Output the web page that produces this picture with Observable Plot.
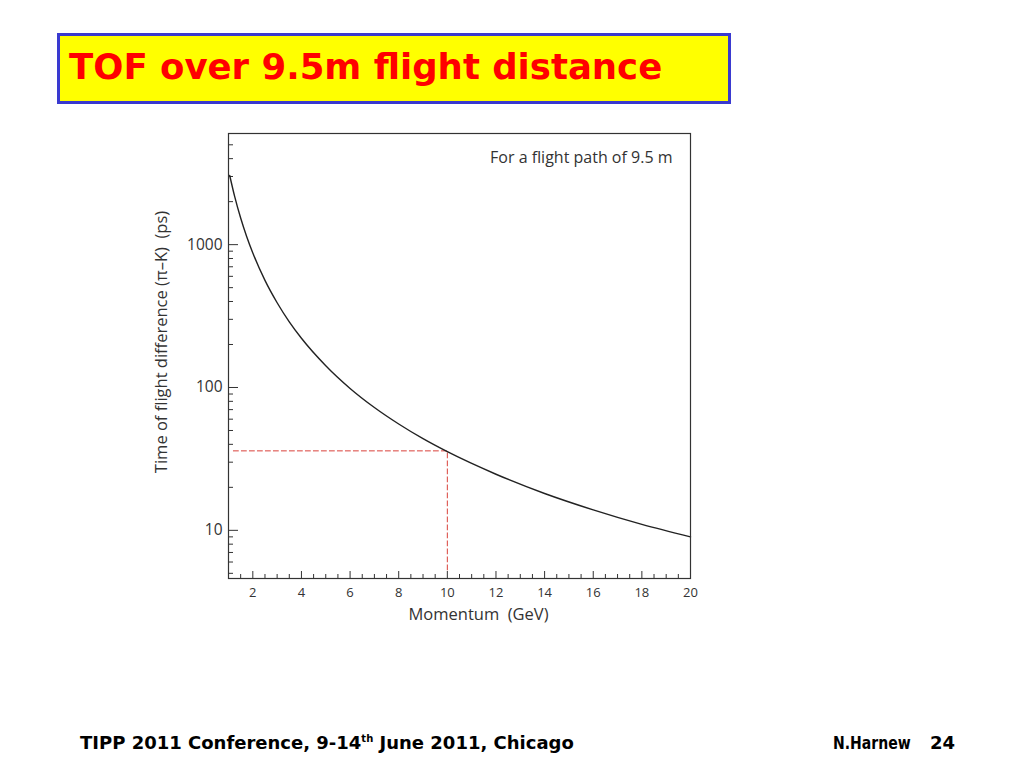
<!DOCTYPE html>
<html>
<head>
<meta charset="utf-8">
<script src="https://cdn.jsdelivr.net/npm/d3@7"></script>
<script src="https://cdn.jsdelivr.net/npm/@observablehq/plot@0.6"></script>
<style>
  html, body { margin: 0; padding: 0; background: #fff; }
  body { width: 1024px; height: 768px; position: relative; overflow: hidden; font-family: "Open Sans", sans-serif; }
  #title { position: absolute; left: 57px; top: 33px; width: 668px; height: 65px; background: #ffff00; border: 3px solid #3a3ad0; }
  #title span { position: absolute; left: 9px; top: 10px; font-family: "DejaVu Sans", sans-serif; font-weight: bold; font-size: 35.5px; color: #ff0000; white-space: nowrap; }
  #chart { position: absolute; left: 130px; top: 120px; }
  .foot { position: absolute; top: 732px; font-family: "DejaVu Sans", sans-serif; font-weight: bold; font-size: 18px; color: #000; white-space: nowrap; transform-origin: 0 50%; }
  .foot sup { font-size: 10px; }
</style>
</head>
<body>
<div id="title"><span id="titletext"></span></div>
<div id="chart"></div>
<div class="foot" id="f1" style="left:80px"></div>
<div class="foot" id="f2" style="left:833px; transform: scaleX(0.78)"></div>
<div class="foot" id="f3" style="left:930px"></div>
<script>
// ---- data ----
const momentum = [1.05, 1.25, 1.5, 1.75, 2, 2.5, 3, 3.5, 4, 5, 6, 7, 8, 9, 10, 12, 14, 16, 18, 20];
const tofDiff  = [3050, 2185, 1535, 1136, 874, 562, 392, 288, 221, 142, 98.5, 72.4, 55.5, 43.8, 35.5, 24.7, 18.1, 13.9, 11.0, 9.0];
const refLineX = [1.2, 10, 10];
const refLineY = [36, 36, 5.1];
const xTickValues = [2, 4, 6, 8, 10, 12, 14, 16, 18, 20];
const xMinorTicks = [1.5, 2.5, 3, 3.5, 4.5, 5, 5.5, 6.5, 7, 7.5, 8.5, 9, 9.5, 10.5, 11, 11.5, 12.5, 13, 13.5, 14.5, 15, 15.5, 16.5, 17, 17.5, 18.5, 19, 19.5];
const yTickValues = [10, 100, 1000];
const yMinorTicks = [5, 6, 7, 8, 9, 20, 30, 40, 50, 60, 70, 80, 90, 200, 300, 400, 500, 600, 700, 800, 900, 2000, 3000, 4000, 5000];
const xDomain = [1, 20];
const yDomain = [4.6, 6000];
const xLabel = "Momentum  (GeV)";
const yLabel = "Time of flight difference (\u03c0\u2013K)  (ps)";
const note = "For a flight path of 9.5 m";
const titleText = "TOF over 9.5m flight distance";
const footLeft = "TIPP 2011 Conference, 9-14<sup>th</sup> June 2011, Chicago";
const footMid = "N.Harnew";
const footRight = "24";

document.getElementById("titletext").textContent = titleText;
document.getElementById("f1").innerHTML = footLeft;
document.getElementById("f2").textContent = footMid;
document.getElementById("f3").textContent = footRight;

const curve = momentum.map((p, i) => ({p, t: tofDiff[i]}));
const ref = refLineX.map((p, i) => ({p, t: refLineY[i]}));

const ink = "#333";
const chart = Plot.plot({
  width: 600,
  height: 520,
  marginLeft: 98,
  marginRight: 40,
  marginTop: 13,
  marginBottom: 62,
  style: {fontFamily: "Open Sans, sans-serif", color: ink, background: "transparent", overflow: "visible"},
  x: {domain: xDomain},
  y: {type: "log", domain: yDomain},
  marks: [
    Plot.axisX({ticks: xTickValues, tickSize: 0, tickPadding: 9, fontSize: 13, label: null}),
    Plot.axisX({ticks: xMinorTicks, tickSize: -4, text: null, label: null, stroke: ink}),
    Plot.axisX({ticks: xTickValues, tickSize: -7, text: null, label: null, stroke: ink}),
    Plot.text([xLabel], {frameAnchor: "bottom", textAnchor: "middle", lineAnchor: "middle", dx: 19, dy: 36, fontSize: 16.5, fill: ink}),
    Plot.axisY({ticks: yTickValues, tickSize: 0, tickPadding: 6, fontSize: 15.5, label: null, tickFormat: d => String(d)}),
    Plot.axisY({ticks: yMinorTicks, tickSize: -5, text: null, label: null, stroke: ink}),
    Plot.axisY({ticks: yTickValues, tickSize: -10, text: null, label: null, stroke: ink}),
    Plot.text([yLabel], {frameAnchor: "left", textAnchor: "middle", lineAnchor: "middle", rotate: -90, dx: -67, dy: -14, fontSize: 16.5, fill: ink}),
    Plot.line(ref, {x: "p", y: "t", stroke: "#d9413a", strokeWidth: 1, strokeDasharray: "5,3"}),
    Plot.line(curve, {x: "p", y: "t", stroke: "#222", strokeWidth: 1.4, curve: "monotone-x"}),
    Plot.text([note], {frameAnchor: "top-right", dx: -18, dy: 18, fontSize: 16, fill: ink, textAnchor: "end"}),
    Plot.frame({stroke: ink, strokeWidth: 1.2})
  ]
});
document.getElementById("chart").appendChild(chart);
</script>
</body>
</html>
